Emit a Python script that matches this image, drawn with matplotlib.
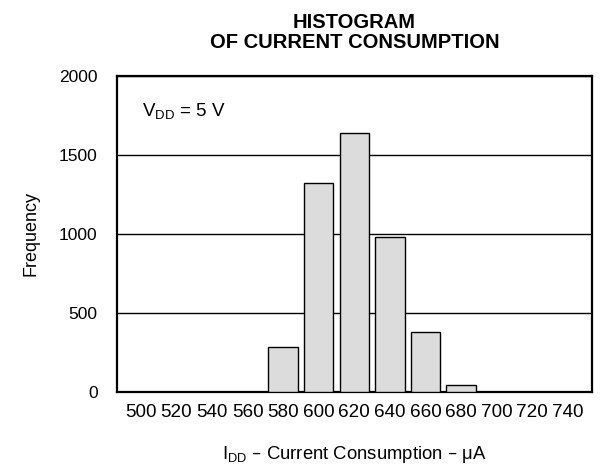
import matplotlib
matplotlib.use("Agg")
import matplotlib.pyplot as plt
import numpy as np

plt.rcParams['font.family'] = ['Liberation Sans', 'DejaVu Sans']
plt.rcParams['mathtext.default'] = 'regular'

# current bins (uA) and counts
current_bins = [500, 520, 540, 560, 580, 600, 620, 640, 660, 680, 700, 720, 740]
frequency = [0, 0, 0, 0, 286, 1321, 1640, 980, 379, 43, 0, 0, 0]
y_ticks = [0, 500, 1000, 1500, 2000]

fig = plt.figure(figsize=(6.13, 4.66), dpi=100)
ax = fig.add_axes([0.191, 0.159, 0.775, 0.678])

x = np.arange(len(current_bins))
ax.bar(x, frequency, width=0.83, color='#dcdcdc', edgecolor='black',
       linewidth=1.0, zorder=3)

ax.set_xlim(-0.67, len(current_bins) - 1 + 0.69)
ax.set_ylim(0, 2000)
ax.set_xticks(x)
ax.set_xticklabels([str(v) for v in current_bins])
ax.set_yticks(y_ticks)
ax.tick_params(axis='x', length=0, labelsize=13.6, pad=9)
ax.tick_params(axis='y', length=0, labelsize=12.5, pad=14)
ax.yaxis.grid(True, color='black', linewidth=1.0, zorder=0)

for spine in ax.spines.values():
    spine.set_linewidth(1.6)

ax.text(0.053, 0.89, 'V$_{DD}$ = 5 V', transform=ax.transAxes,
        fontsize=13.5, va='center', ha='left')

ax.set_title('HISTOGRAM\nOF CURRENT CONSUMPTION', fontsize=14.5,
             fontweight='bold', pad=20, linespacing=1.1)
ax.set_ylabel('Frequency', fontsize=13, labelpad=14)
ax.set_xlabel('I$_{DD}$ \u2013 Current Consumption \u2013 \u03bcA',
              fontsize=13.3, labelpad=16)

fig.savefig('out.png', dpi=100)
plt.close(fig)
